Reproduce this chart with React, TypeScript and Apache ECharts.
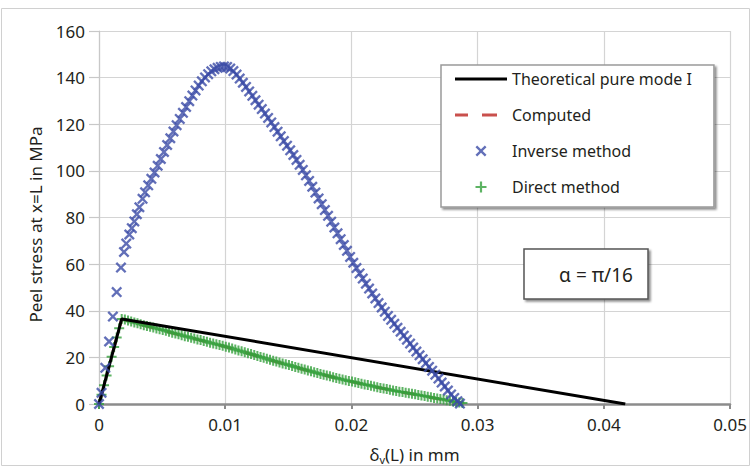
import React, { useEffect, useRef } from "react";
import * as echarts from "echarts";

// ---- data (δv(L) in mm, peel stress in MPa) ----
const xTicks = [0, 0.01, 0.02, 0.03, 0.04, 0.05];
const yTicks = [0, 20, 40, 60, 80, 100, 120, 140, 160];

const theoretical: number[][] = [
  [0, 0], [0.0018, 36.5], [0.0417, 0],
];

const computed: number[][] = [
  [0, 0], [0.0018, 36.5], [0.003, 34.6], [0.004, 33.1], [0.005, 31.7], [0.006, 30.2],
  [0.007, 28.8], [0.008, 27.4], [0.009, 26.0], [0.010, 24.6], [0.011, 23.0], [0.012, 21.4],
  [0.013, 19.8], [0.014, 18.2], [0.015, 16.7], [0.016, 15.1], [0.017, 13.6], [0.018, 12.2],
  [0.019, 10.8], [0.020, 9.6], [0.021, 8.4], [0.022, 7.2], [0.023, 6.1], [0.024, 5.1],
  [0.025, 4.2], [0.026, 3.1], [0.027, 2.1], [0.028, 1.1], [0.0288, 0.4],
];

const inverseMethod: number[][] = [
  [0, 0], [0.0002, 4.8], [0.0005, 15.5], [0.0008, 26.8], [0.0011, 37.5], [0.0014, 48],
  [0.00174, 58.5], [0.00198, 65.2], [0.00216, 68.8], [0.0024, 72.7], [0.0026, 75.4],
  [0.0028, 78.3], [0.003, 81.4], [0.0032, 84.4], [0.00345, 88], [0.00365, 90.8], [0.0039, 93.8],
  [0.00415, 96.6], [0.0044, 99.3], [0.00465, 102.2], [0.0049, 105.1], [0.00515, 108.1],
  [0.0054, 111.1], [0.00565, 114], [0.0059, 116.9], [0.00615, 119.6], [0.0064, 122.3],
  [0.00665, 124.9], [0.0069, 127.4], [0.00715, 129.9], [0.0074, 132.3], [0.00765, 134.5],
  [0.0079, 136.6], [0.00815, 138.4], [0.0084, 140.1], [0.00865, 141.5], [0.0089, 142.7],
  [0.00915, 143.6], [0.0094, 144.2], [0.00965, 144.6], [0.0099, 144.8], [0.01015, 144.6],
  [0.0104, 143.9], [0.01065, 142.8], [0.0109, 141.3], [0.01115, 139.6], [0.0114, 137.8],
  [0.01165, 136], [0.0119, 134.1], [0.01215, 132.2], [0.0124, 130.3], [0.01265, 128.4],
  [0.0129, 126.5], [0.01315, 124.6], [0.0134, 122.7], [0.01365, 120.8], [0.0139, 118.8],
  [0.01415, 116.8], [0.0144, 114.8], [0.01465, 112.8], [0.0149, 110.8], [0.01515, 108.8],
  [0.0154, 106.8], [0.01565, 104.7], [0.0159, 102.6], [0.01615, 100.4], [0.0164, 98.1],
  [0.01665, 95.7], [0.0169, 93.2], [0.01715, 90.7], [0.0174, 88.2], [0.01765, 85.7],
  [0.0179, 83.2], [0.01815, 80.7], [0.0184, 78.2], [0.01865, 75.7], [0.0189, 73.2],
  [0.01915, 70.7], [0.0194, 68.2], [0.01965, 65.7], [0.0199, 63.1], [0.02015, 60.6],
  [0.0204, 58.3], [0.02065, 56], [0.0209, 53.8], [0.02115, 51.6], [0.0214, 49.5],
  [0.02165, 47.4], [0.0219, 45.3], [0.02215, 43.3], [0.0224, 41.4], [0.02265, 39.6],
  [0.0229, 37.8], [0.02315, 36.1], [0.0234, 34.4], [0.02365, 32.7], [0.0239, 31],
  [0.02415, 29.3], [0.0244, 27.6], [0.02465, 25.9], [0.0249, 24.2], [0.02515, 22.5],
  [0.0254, 20.9], [0.02565, 19.2], [0.0259, 17.5], [0.02615, 15.9], [0.0264, 14.3],
  [0.02665, 12.6], [0.0269, 10.9], [0.02715, 9.2], [0.0274, 7.5], [0.02765, 5.8],
  [0.0279, 4.1], [0.02815, 2.6], [0.0284, 1.2], [0.0286, 0.2],
];

const directMethod: number[][] = [
  [0, 0], [0.0002, 4], [0.0004, 8], [0.0006, 12.2], [0.0008, 16.2], [0.001, 20.3],
  [0.0012, 24.4], [0.0014, 28.5], [0.0016, 32.5], [0.0018, 36.5],
  [0.00205, 36.2], [0.0023, 35.8], [0.00255, 35.4], [0.0028, 35.0], [0.00305, 34.6],
  [0.0033, 34.2], [0.00355, 33.8], [0.0038, 33.5], [0.00405, 33.1], [0.0043, 32.8],
  [0.00455, 32.4], [0.0048, 32.1], [0.00505, 31.7], [0.0053, 31.4], [0.00555, 31.0],
  [0.0058, 30.6], [0.00605, 30.2], [0.0063, 29.9], [0.00655, 29.5], [0.0068, 29.1],
  [0.00705, 28.8], [0.0073, 28.4], [0.00755, 28.1], [0.0078, 27.7], [0.00805, 27.4],
  [0.0083, 27.0], [0.00855, 26.7], [0.0088, 26.3], [0.00905, 26.0], [0.0093, 25.6],
  [0.00955, 25.3], [0.0098, 25.0], [0.01005, 24.6], [0.0103, 24.2], [0.01055, 23.8],
  [0.0108, 23.4], [0.01105, 23.0], [0.0113, 22.6], [0.01155, 22.2], [0.0118, 21.8],
  [0.01205, 21.4], [0.0123, 21.0], [0.01255, 20.6], [0.0128, 20.2], [0.01305, 19.8],
  [0.0133, 19.4], [0.01355, 19.0], [0.0138, 18.6], [0.01405, 18.2], [0.0143, 17.8],
  [0.01455, 17.4], [0.0148, 17.1], [0.01505, 16.7], [0.0153, 16.3], [0.01555, 15.9],
  [0.0158, 15.5], [0.01605, 15.1], [0.0163, 14.8], [0.01655, 14.4], [0.0168, 14.0],
  [0.01705, 13.6], [0.0173, 13.3], [0.01755, 12.9], [0.0178, 12.6], [0.01805, 12.2],
  [0.0183, 11.9], [0.01855, 11.5], [0.0188, 11.2], [0.01905, 10.8], [0.0193, 10.5],
  [0.01955, 10.2], [0.0198, 9.9], [0.02005, 9.6], [0.0203, 9.3], [0.02055, 9.0],
  [0.0208, 8.7], [0.02105, 8.4], [0.0213, 8.1], [0.02155, 7.8], [0.0218, 7.5],
  [0.02205, 7.2], [0.0223, 6.9], [0.02255, 6.6], [0.0228, 6.4], [0.02305, 6.1],
  [0.0233, 5.8], [0.02355, 5.6], [0.0238, 5.3], [0.02405, 5.1], [0.0243, 4.8],
  [0.02455, 4.6], [0.0248, 4.4], [0.02505, 4.2], [0.0253, 3.9], [0.02555, 3.6],
  [0.0258, 3.4], [0.02605, 3.1], [0.0263, 2.9], [0.02655, 2.6], [0.0268, 2.4],
  [0.02705, 2.1], [0.0273, 1.9], [0.02755, 1.6], [0.0278, 1.4], [0.02805, 1.1],
  [0.0283, 0.9], [0.02855, 0.6], [0.0288, 0.4],
];

const seriesNames = ["Theoretical pure mode I", "Computed", "Inverse method", "Direct method"];
const annotation = "α = π/16";

const FONT = "'Noto Sans', 'DejaVu Sans', sans-serif";
const PLUS = "path://M4,0H6V4H10V6H6V10H4V6H0V4H4Z";
const CROSS = "path://M1.5,0L5,3.5L8.5,0L10,1.5L6.5,5L10,8.5L8.5,10L5,6.5L1.5,10L0,8.5L3.5,5L0,1.5Z";
const SOLID_ICON = "path://M0,0H52V3.2H0Z";
const DASH_ICON = "path://M0,0H13V3.2H0ZM27,0H42V3.2H27ZM52,0L52,3.2";

export default function App() {
  const ref = useRef<HTMLDivElement>(null);
  useEffect(() => {
    if (!ref.current) return;
    const chart = echarts.init(ref.current, undefined, { renderer: "svg" });
    const option: any = {
      animation: false,
      backgroundColor: "#ffffff",
      textStyle: { fontFamily: FONT },
      grid: { left: 99, right: 22, top: 31, bottom: 68, containLabel: false },
      xAxis: {
        type: "value",
        min: xTicks[0],
        max: xTicks[xTicks.length - 1],
        interval: 0.01,
        name: "{a|δ}{s|v}{a|(L) in mm}",
        nameLocation: "middle",
        nameGap: 40,
        nameTextStyle: {
          rich: {
            a: { fontSize: 17, color: "#231f20", fontFamily: FONT },
            s: { fontSize: 11, color: "#231f20", fontFamily: FONT, verticalAlign: "bottom", padding: [10, 0, 0, 0] },
          },
        },
        axisLine: { show: true, lineStyle: { color: "#8c8c8c", width: 2.5 } },
        axisTick: { show: true, length: 5, lineStyle: { color: "#8c8c8c", width: 2 } },
        axisLabel: {
          fontSize: 17,
          color: "#231f20",
          margin: 12,
          fontFamily: FONT,
          formatter: (v: number) => (v === 0 ? "0" : v.toFixed(2)),
        },
        splitLine: { show: true, lineStyle: { color: "#d4d4d4", width: 1.2 } },
      },
      yAxis: {
        type: "value",
        min: yTicks[0],
        max: yTicks[yTicks.length - 1],
        interval: 20,
        name: "Peel stress at x=L in MPa",
        nameLocation: "middle",
        nameGap: 55,
        nameTextStyle: { fontSize: 17, color: "#231f20", fontFamily: FONT, padding: [0, 0, 0, -14] },
        axisLine: { show: true, lineStyle: { color: "#c8c8c8", width: 1.2 } },
        axisTick: { show: true, length: 10, lineStyle: { color: "#c8c8c8", width: 1.2 } },
        axisLabel: { fontSize: 17, color: "#231f20", margin: 14, fontFamily: FONT },
        splitLine: { show: true, lineStyle: { color: "#d4d4d4", width: 1.2 } },
      },
      legend: {
        orient: "vertical",
        left: 441,
        top: 65,
        data: [
          { name: seriesNames[0], icon: SOLID_ICON },
          { name: seriesNames[1], icon: DASH_ICON },
          { name: seriesNames[2] },
          { name: seriesNames[3] },
        ],
        itemWidth: 52,
        itemHeight: 11,
        itemGap: 20,
        itemTextGap: 5,
        padding: [6, 22, 12, 14],
        backgroundColor: "#ffffff",
        borderColor: "#9a9a9a",
        borderWidth: 1.5,
        shadowColor: "rgba(0,0,0,0.45)",
        shadowBlur: 2,
        shadowOffsetX: 2,
        shadowOffsetY: 2,
        textStyle: { fontSize: 16, color: "#231f20", fontFamily: FONT },
      },
      series: [
        {
          name: seriesNames[1],
          type: "line",
          data: computed,
          symbol: "none",
          smooth: false,
          lineStyle: { color: "#c9504d", width: 3, type: [13, 14] },
          itemStyle: { color: "#c9504d" },
          z: 2,
        },
        {
          name: seriesNames[3],
          type: "scatter",
          data: directMethod,
          symbol: PLUS,
          symbolSize: 10,
          itemStyle: { color: "#34a03c" },
          z: 3,
        },
        {
          name: seriesNames[0],
          type: "line",
          data: theoretical,
          symbol: "none",
          lineStyle: { color: "#000000", width: 3 },
          itemStyle: { color: "#000000" },
          z: 4,
        },
        {
          name: seriesNames[2],
          type: "scatter",
          data: inverseMethod,
          symbol: CROSS,
          symbolSize: 11,
          itemStyle: { color: "#3b4ba6" },
          z: 5,
        },
      ],
      graphic: [
        {
          type: "rect",
          z: -10,
          silent: true,
          shape: { x: 1.5, y: 8.5, width: 748, height: 457 },
          style: { fill: "none", stroke: "#d0d0d0", lineWidth: 1 },
        },
        {
          type: "rect",
          z: 100,
          shape: { x: 524, y: 249, width: 124, height: 50 },
          style: {
            fill: "#ffffff",
            stroke: "#555555",
            lineWidth: 1.5,
            shadowColor: "rgba(0,0,0,0.45)",
            shadowBlur: 2,
            shadowOffsetX: 2,
            shadowOffsetY: 2,
          },
        },
        {
          type: "text",
          z: 101,
          x: 596,
          y: 275,
          style: {
            text: annotation,
            fontSize: 19,
            fontFamily: FONT,
            fill: "#231f20",
            align: "center",
            verticalAlign: "middle",
          },
        },
      ],
    };
    chart.setOption(option);
    return () => chart.dispose();
  }, []);
  return (
    <div
      ref={ref}
      style={{ position: "fixed", left: 0, top: 0, width: 752, height: 472 }}
    />
  );
}
